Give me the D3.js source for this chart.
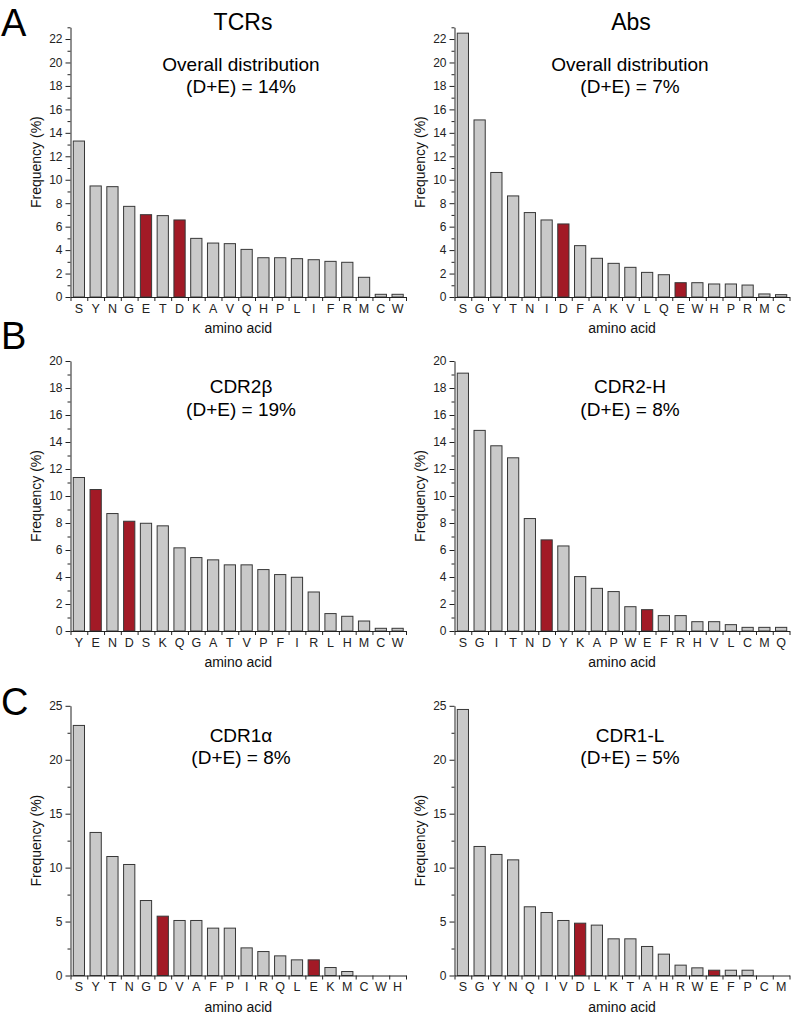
<!DOCTYPE html>
<html>
<head>
<meta charset="utf-8">
<script src="https://cdn.jsdelivr.net/npm/d3@7"></script>
<style>
  html, body { margin: 0; padding: 0; background: #fff; }
  svg { display: block; font-family: "Liberation Sans", Arial, sans-serif; }
</style>
</head>
<body>
<svg id="chart" width="793" height="1017"></svg>
<script>
// ---------- DATA ----------
const tcrAllCats = ["S","Y","N","G","E","T","D","K","A","V","Q","H","P","L","I","F","R","M","C","W"];
const tcrAllVals = [13.3,9.47,9.41,7.73,7.02,6.94,6.57,5.0,4.6,4.55,4.06,3.35,3.35,3.27,3.18,3.04,2.96,1.68,0.23,0.23];

const abAllCats = ["S","G","Y","T","N","I","D","F","A","K","V","L","Q","E","W","H","P","R","M","C"];
const abAllVals = [22.5,15.1,10.62,8.62,7.2,6.57,6.23,4.38,3.3,2.87,2.53,2.1,1.9,1.22,1.22,1.11,1.11,1.02,0.26,0.2];

const cdr2bCats = ["Y","E","N","D","S","K","Q","G","A","T","V","P","F","I","R","L","H","M","C","W"];
const cdr2bVals = [11.37,10.48,8.7,8.13,7.98,7.79,6.16,5.44,5.27,4.9,4.9,4.55,4.18,3.98,2.89,1.29,1.09,0.74,0.2,0.2];

const cdr2hCats = ["S","G","I","T","N","D","Y","K","A","P","W","E","F","R","H","V","L","C","M","Q"];
const cdr2hVals = [19.1,14.86,13.72,12.83,8.33,6.75,6.3,4.03,3.16,2.92,1.8,1.58,1.14,1.14,0.69,0.69,0.47,0.27,0.27,0.27];

const cdr1aCats = ["S","Y","T","N","G","D","V","A","F","P","I","R","Q","L","E","K","M","C","W","H"];
const cdr1aVals = [23.18,13.26,11.03,10.29,6.95,5.5,5.1,5.1,4.39,4.39,2.56,2.22,1.82,1.45,1.45,0.74,0.37,0,0,0];

const cdr1lCats = ["S","G","Y","N","Q","I","V","D","L","K","T","A","H","R","W","E","F","P","C","M"];
const cdr1lVals = [24.66,11.96,11.22,10.72,6.37,5.84,5.1,4.85,4.67,3.4,3.4,2.69,1.98,0.96,0.71,0.49,0.49,0.49,0,0];

const highlightCats = ["D","E"];

const yTicksAB22 = [0,2,4,6,8,10,12,14,16,18,20,22];
const yTicksB20 = [0,2,4,6,8,10,12,14,16,18,20];
const yTicksC25 = [0,5,10,15,20,25];

const columnTitles = ["TCRs","Abs"];
const panelLetters = ["A","B","C"];
const panelTitles = [
  ["Overall distribution","(D+E) = 14%"],
  ["Overall distribution","(D+E) = 7%"],
  ["CDR2\u03B2","(D+E) = 19%"],
  ["CDR2-H","(D+E) = 8%"],
  ["CDR1\u03B1","(D+E) = 8%"],
  ["CDR1-L","(D+E) = 5%"]
];
const xLabel = "amino acid";
const yLabel = "Frequency (%)";

// ---------- LAYOUT ----------
const GREY = "#c9c9c9", RED = "#a21a26", STROKE = "#383838", AXIS = "#222";
const svg = d3.select("#chart");

const colX = [[70.5, 406], [454.5, 789.5]];
const rows = [
  { y0: 297, y1: 27.3, max: 23, ticks: yTicksAB22, minorStep: 1 },
  { y0: 631, y1: 361, max: 20, ticks: yTicksB20, minorStep: 1 },
  { y0: 975.5, y1: 705.8, max: 25, ticks: yTicksC25, minorStep: 2.5 }
];
const panels = [
  { r: 0, c: 0, cats: tcrAllCats, vals: tcrAllVals },
  { r: 0, c: 1, cats: abAllCats, vals: abAllVals },
  { r: 1, c: 0, cats: cdr2bCats, vals: cdr2bVals },
  { r: 1, c: 1, cats: cdr2hCats, vals: cdr2hVals },
  { r: 2, c: 0, cats: cdr1aCats, vals: cdr1aVals },
  { r: 2, c: 1, cats: cdr1lCats, vals: cdr1lVals }
];
const titleY = [[71, 93], [393, 416], [742, 764]];
const titleCx = [241, 630];

panels.forEach((p, i) => {
  const row = rows[p.r];
  const [xa, xb] = colX[p.c];
  const g = svg.append("g");

  const x = d3.scaleBand().domain(p.cats).range([xa, xb]).paddingInner(0.33).paddingOuter(0.165);
  const xb2 = d3.scaleLinear().domain([0, p.cats.length]).range([xa, xb]);
  const y = d3.scaleLinear().domain([0, row.max]).range([row.y0, row.y1]);

  // bars
  g.selectAll("rect.bar").data(p.cats.map((c, k) => ({ c, v: p.vals[k] })).filter(d => d.v > 0))
    .join("rect")
    .attr("x", d => x(d.c))
    .attr("width", x.bandwidth())
    .attr("y", d => y(d.v))
    .attr("height", d => y(0) - y(d.v))
    .attr("fill", d => highlightCats.includes(d.c) ? RED : GREY)
    .attr("stroke", STROKE)
    .attr("stroke-width", 1);

  // minor y ticks
  const minor = d3.range(0, row.max + 0.001, row.minorStep).filter(v => !row.ticks.includes(v));
  const yMinor = g.append("g").attr("transform", `translate(${xa},0)`)
    .call(d3.axisLeft(y).tickValues(minor).tickSize(3).tickSizeOuter(0).tickFormat(""));
  yMinor.select(".domain").remove();
  yMinor.selectAll("line").attr("stroke", AXIS);

  // major y axis
  const yAx = g.append("g").attr("transform", `translate(${xa},0)`)
    .call(d3.axisLeft(y).tickValues(row.ticks).tickSize(5).tickSizeOuter(0).tickPadding(3));
  yAx.select(".domain").attr("stroke", AXIS);
  yAx.selectAll("line").attr("stroke", AXIS);
  yAx.selectAll("text").attr("font-size", 12).attr("fill", AXIS).attr("font-family", "Liberation Sans, Arial, sans-serif");

  // x axis boundary ticks
  const xTickAx = g.append("g").attr("transform", `translate(0,${row.y0})`)
    .call(d3.axisBottom(xb2).tickValues(d3.range(0, p.cats.length + 1)).tickSize(4).tickSizeOuter(0).tickFormat(""));
  xTickAx.select(".domain").attr("stroke", AXIS);
  xTickAx.selectAll("line").attr("stroke", AXIS);

  // x labels
  const xAx = g.append("g").attr("transform", `translate(0,${row.y0})`)
    .call(d3.axisBottom(x).tickSize(0).tickPadding(7));
  xAx.select(".domain").remove();
  xAx.selectAll("text").attr("font-size", 12.5).attr("fill", AXIS).attr("font-family", "Liberation Sans, Arial, sans-serif");

  // axis titles
  g.append("text").attr("x", (xa + xb) / 2).attr("y", row.y0 + 36)
    .attr("text-anchor", "middle").attr("font-size", 14).attr("fill", "#111").text(xLabel);
  g.append("text")
    .attr("transform", `translate(${xa - 30},${(row.y0 + row.y1) / 2}) rotate(-90)`)
    .attr("text-anchor", "middle").attr("font-size", 14).attr("fill", "#111").text(yLabel);

  // panel title
  const t = panelTitles[i];
  g.append("text").attr("x", titleCx[p.c]).attr("y", titleY[p.r][0])
    .attr("text-anchor", "middle").attr("font-size", 19).attr("fill", "#000").text(t[0]);
  g.append("text").attr("x", titleCx[p.c]).attr("y", titleY[p.r][1])
    .attr("text-anchor", "middle").attr("font-size", 19).attr("fill", "#000").text(t[1]);
});

// column headers
columnTitles.forEach((s, i) => {
  svg.append("text").attr("x", [243, 631][i]).attr("y", 30)
    .attr("text-anchor", "middle").attr("font-size", 23).attr("fill", "#000").text(s);
});
// panel letters
const letterY = [36, 349, 715];
panelLetters.forEach((s, i) => {
  svg.append("text").attr("x", 1).attr("y", letterY[i])
    .attr("font-size", 38).attr("fill", "#000").text(s);
});
</script>
</body>
</html>
